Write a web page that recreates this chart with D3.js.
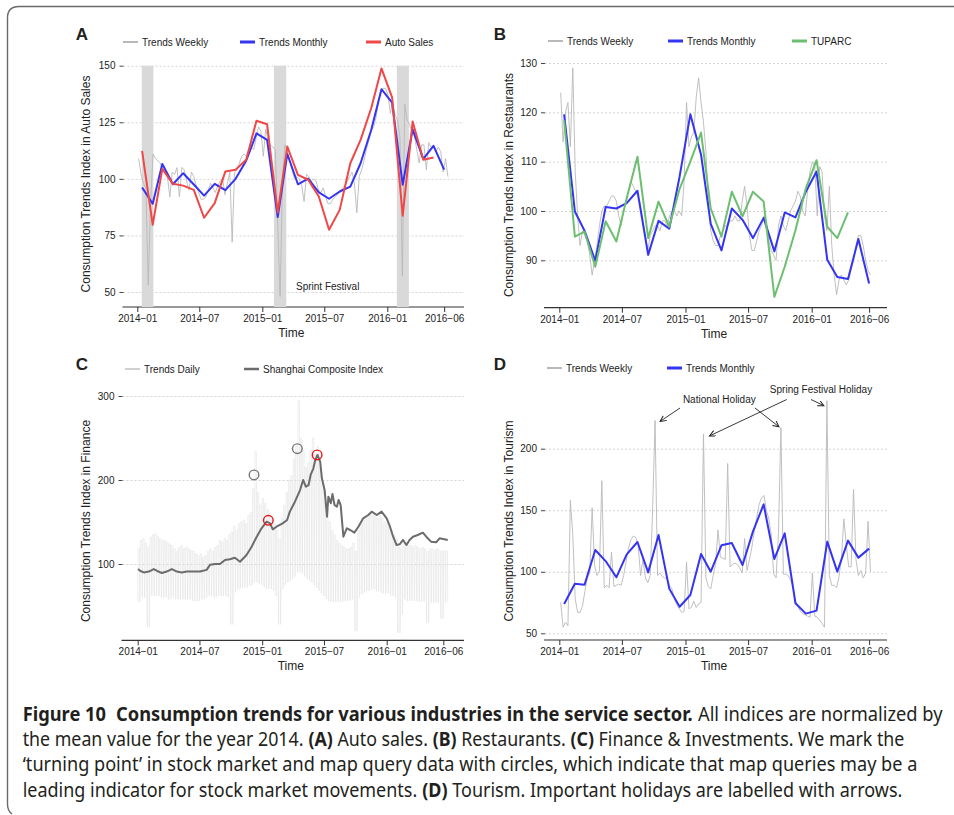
<!DOCTYPE html>
<html>
<head>
<meta charset="utf-8">
<script src="https://cdn.jsdelivr.net/npm/d3@7"></script>
<style>
body { margin: 0; background: #fff; }
svg text { font-family: "Liberation Sans", Arial, sans-serif; fill: #222; }
.caption text { font-family: "Noto Sans", "Open Sans", sans-serif; fill: #231f20; }
</style>
</head>
<body>
<svg id="fig" width="954" height="815"></svg>
<script>
// ---- data ----
var monthLabels = ["2014-01","2014-02","2014-03","2014-04","2014-05","2014-06","2014-07","2014-08","2014-09","2014-10","2014-11","2014-12",
  "2015-01","2015-02","2015-03","2015-04","2015-05","2015-06","2015-07","2015-08","2015-09","2015-10","2015-11","2015-12",
  "2016-01","2016-02","2016-03","2016-04","2016-05","2016-06"];
var tickDates = ["2014-01-01","2014-07-01","2015-01-01","2015-07-01","2016-01-01","2016-06-15"];
var tickLabels = ["2014\u221201","2014\u221207","2015\u221201","2015\u221207","2016\u221201","2016\u221206"];

// A: auto sales
var aTrendsWeekly = [109,102,98,96,53,90,111,109,108,107,104,103,101,92,103,102,105,92,105,104,
  99,95,103,101,97,94,91,91,92,95,98,96,94,97,99,100,93,98,103,72,
  103,104,107,110,111,110,113,114,113,118,123,121,110,122,117,115,114,113,80,48,
  100,115,112,108,104,100,101,100,97,90,102,101,99,100,99,95,94,96,92,89,
  89,91,92,93,94,96,97,99,101,103,98,85,101,104,108,113,117,121,123,127,
  134,139,140,140,137,129,134,128,126,118,57,133,126,124,121,119,113,107,115,115,
  104,116,114,114,112,114,112,103,109,101];
var aTrendsMonthly = [96.2,89,106.6,97.6,102.5,97.5,92.6,97.8,95,100,108,120.1,
  117.2,83.1,111,97.6,100.1,94,91.2,94.4,96.6,106.9,121.6,139.6,
  133.7,97.4,121.9,108.8,114.6,104.1];
var aAutoSales = [112.4,79.7,104.4,97.8,97,95.1,82.8,89.3,103.2,104,108.4,125.7,
  124.1,85.1,114.3,101.8,99.6,92.2,77.5,86.3,106.9,117.2,131.2,148.8,
  136,83.7,125.3,108.4,109.4];
var springBands = [["2014-01-14","2014-02-17"],["2015-02-04","2015-03-12"],["2016-01-29","2016-03-04"]];

// B: restaurants
var bTrendsWeekly = [124,114,120,122,113,129,108,99,93,96,95,94,91,87,90,93,97,100,101,101,
  102,103,103,102,99,97,100,102,104,106,105,104,103,101,98,95,92,95,96,97,
  97,96,98,98,97,99,100,100,99,100,99,106,122,113,115,116,123,127,122,118,
  112,102,96,94,93,93,95,96,97,97,98,98,99,98,98,102,105,101,95,92,
  92,94,96,97,99,98,94,92,91,90,97,99,97,96,98,100,101,102,104,103,
  100,99,104,108,110,109,99,109,108,99,96,105,93,87,83,86,87,86,85,86,
  88,90,93,95,95,93,90,88,87];
var bTrendsMonthly = [119.6,99.9,96,89.9,100.8,100.5,101.6,104.1,91.1,98,96.4,107,
  119.6,111.4,97.4,92,100.5,98.2,94.5,98.6,91.8,99.7,98.7,103.9,
  108,90.1,86.6,86.2,94.3,85.3];
var bTuparc = [118.4,94.8,95.8,88.7,97.9,93.8,102.6,111,94.5,101.9,96.8,104.5,
  110,115.9,100.5,94.8,103.9,98.9,103.9,101.9,82.6,88.7,96.1,104.6,
  110.3,96.8,94.5,99.7];

// C: finance (daily trends kept as weekly weekday level / weekend level)
var dailyHigh = [118,128,130,125,120,132,135,136,133,130,128,128,126,124,122,118,115,120,122,118,
  120,118,116,115,112,110,112,108,110,115,118,115,120,122,128,126,130,128,135,138,
  145,140,148,150,152,148,158,162,190,234,185,170,178,172,165,160,152,148,140,130,
  155,170,185,200,205,225,240,295,250,235,215,220,235,250,230,240,215,195,175,165,
  150,140,135,128,125,122,120,118,118,120,125,115,140,148,152,155,158,160,158,160,
  155,158,155,150,148,145,140,135,130,120,118,125,125,122,122,120,122,120,118,120,
  118,115,118,118,116,118,116,115,116,115];
var dailyLow = [55,62,60,60,25,62,64,62,63,62,60,62,60,58,60,60,58,58,60,58,
  58,58,58,56,56,56,58,58,60,62,62,62,60,62,64,62,64,62,60,28,
  66,70,70,72,72,72,74,75,78,80,78,76,75,72,70,72,70,68,62,28,
  70,75,78,80,82,85,90,92,90,88,85,82,80,78,75,72,68,65,62,58,
  56,55,55,55,55,55,56,56,56,58,58,20,60,64,66,68,68,70,70,70,
  68,68,66,65,66,65,62,62,60,18,40,58,58,56,56,58,56,56,55,56,
  55,30,55,54,54,55,54,35,54,55];
var sciDates = ["2014-01-02","2014-01-09","2014-01-19","2014-02-03","2014-02-17","2014-02-27","2014-03-13","2014-03-27","2014-04-11","2014-04-26",
  "2014-05-10","2014-05-25","2014-06-13","2014-07-03","2014-07-22","2014-08-01","2014-08-16","2014-08-30","2014-09-14","2014-09-28",
  "2014-10-13","2014-10-28","2014-11-16","2014-12-01","2014-12-16","2014-12-30","2015-01-14","2015-01-24","2015-02-01","2015-02-12",
  "2015-03-02","2015-03-15","2015-03-23","2015-04-07","2015-04-22","2015-05-01","2015-05-09","2015-05-17","2015-05-23","2015-05-31",
  "2015-06-05","2015-06-12","2015-06-20","2015-06-25","2015-07-03","2015-07-10","2015-07-14","2015-07-21","2015-07-26","2015-08-01",
  "2015-08-08","2015-08-13","2015-08-19","2015-08-27","2015-09-06","2015-09-16","2015-09-28","2015-10-10","2015-10-24","2015-11-08",
  "2015-11-18","2015-12-03","2015-12-17","2016-01-01","2016-01-09","2016-01-20","2016-01-30","2016-02-08","2016-02-18","2016-02-28",
  "2016-03-08","2016-03-18","2016-04-01","2016-04-16","2016-04-26","2016-05-10","2016-05-25","2016-06-04","2016-06-18","2016-06-28"];
var sciValues = [94,91.7,90,91,94,91.7,89.3,91,94,91,
  90,91,91,91,93,99,100,100,104.8,105.6,
  107.5,102.7,110.7,120.6,132.5,142.5,150.4,148.4,141.3,144.4,
  148.4,152.4,162.3,174.2,188,200,192,194,206,213.9,
  223,229.8,221.8,202,188,156.3,180.1,172.3,183.3,170.2,
  168.2,176.2,170.2,132.5,142.5,140.5,137.3,144.4,154.4,158.3,
  162.3,158.3,162.3,154.4,146.4,132.5,122.6,123.4,128.6,122.6,
  128.6,132.5,134.5,137.3,132.5,126.6,125.8,130.6,129.4,128.6];
var turnDates = ["2014-12-08","2015-04-14","2015-01-19","2015-06-11"];
var turnValues = [206,237.3,152,229.8];
var turnKinds = ["query","query","market","market"];

// D: tourism
var dTrendsWeekly = [75,55,59,56,158,130,78,67,67,72,84,95,99,152,105,97,100,174,87,89,
  87,116,88,89,90,89,97,108,119,126,129,128,122,97,110,95,91,97,151,223,
  97,99,96,95,94,89,86,78,73,70,67,68,108,70,71,76,71,74,75,212,
  95,88,86,97,106,134,112,111,110,188,104,106,107,106,103,99,127,101,110,120,
  133,144,155,160,162,150,143,130,98,95,132,217,98,98,97,93,88,76,72,68,
  66,65,64,63,99,64,63,61,58,55,239,97,89,89,87,96,111,143,122,104,
  104,167,110,97,101,95,99,141,100];
var dTrendsMonthly = [73.8,90.3,89.5,117.7,108.7,95.5,114.2,124.2,99.5,129.9,86.3,71.6,
  81.1,114.4,100.1,121.5,123.4,105.5,132.6,154.8,110.4,131.2,74.4,66,
  68.4,124.5,100.1,125.3,111.5,118.8];

// ---- drawing ----
var parseDay = d3.timeParse("%Y-%m-%d");
var parseMonth = d3.timeParse("%Y-%m");
var xRef = [parseDay("2014-01-01"), parseDay("2016-01-01")];
var weekStart = parseDay("2014-01-05");
var svg = d3.select("#fig");

var colors = { weekly: "#b9b9b9", monthly: "#3434f2", auto: "#f04747", tuparc: "#6dbf70", daily: "#e2e2e2", sci: "#6c6c6c" };

function monthly(values) {
  return values.map(function(v, i) { return [d3.timeDay.offset(parseMonth(monthLabels[i]), 14), v]; });
}
function weekly(values) {
  return values.map(function(v, i) { return [d3.timeDay.offset(weekStart, 7 * i), v]; });
}

function buildPanel(p) {
  var g = svg.append("g");
  var x = d3.scaleTime().domain(xRef).range(p.xRange);
  var y = d3.scaleLinear().domain(p.yDomain).range(p.yRange);

  g.append("g")
    .attr("transform", "translate(" + p.left + ",0)")
    .call(d3.axisLeft(y).tickValues(p.yTicks).tickSize(-(p.right - p.left)).tickFormat(""))
    .call(function(s) {
      s.select(".domain").remove();
      s.selectAll("line").attr("stroke", "#c2c2c2").attr("stroke-width", 0.7).attr("stroke-dasharray", "2,2");
    });

  g.append("g")
    .attr("transform", "translate(" + p.left + ",0)")
    .call(d3.axisLeft(y).tickValues(p.yTicks).tickSize(4).tickPadding(4))
    .call(function(s) {
      s.select(".domain").remove();
      s.selectAll("line").attr("stroke", "#444");
      s.selectAll("text").attr("font-size", 10);
    });

  g.append("line")
    .attr("x1", p.left - 1).attr("x2", p.right)
    .attr("y1", p.axisY).attr("y2", p.axisY)
    .attr("stroke", "#333").attr("stroke-width", 1.2);

  g.append("g")
    .attr("transform", "translate(0," + p.axisY + ")")
    .call(d3.axisBottom(x).tickValues(tickDates.map(parseDay))
      .tickFormat(function(d, i) { return tickLabels[i]; })
      .tickSize(5).tickPadding(3))
    .call(function(s) {
      s.select(".domain").remove();
      s.selectAll("line").attr("stroke", "#333");
      s.selectAll("text").attr("font-size", 10);
    });

  g.append("text")
    .attr("x", (p.left + p.right) / 2 + p.timeDx).attr("y", p.axisY + 30)
    .attr("text-anchor", "middle").attr("font-size", 12)
    .text("Time");

  g.append("text")
    .attr("transform", "translate(" + p.titleX + "," + p.titleY + ") rotate(-90)")
    .attr("text-anchor", "middle").attr("dy", "0.35em").attr("font-size", 12)
    .text(p.title);

  g.append("text")
    .attr("x", p.letter[0]).attr("y", p.letter[1])
    .attr("text-anchor", "middle").attr("font-size", 17).attr("font-weight", "bold")
    .style("fill", "#231f20")
    .text(p.name);

  var legend = g.append("g");
  p.legend.forEach(function(item) {
    legend.append("line")
      .attr("x1", item.x).attr("x2", item.x + 15)
      .attr("y1", p.legendY).attr("y2", p.legendY)
      .attr("stroke", item.color).attr("stroke-width", item.width);
    legend.append("text")
      .attr("x", item.x + 19).attr("y", p.legendY + 3.5)
      .attr("font-size", 10)
      .text(item.label);
  });

  return { g: g, x: x, y: y };
}

function drawLine(panel, pts, color, width) {
  var line = d3.line()
    .x(function(d) { return panel.x(d[0]); })
    .y(function(d) { return panel.y(d[1]); });
  return panel.g.append("path")
    .datum(pts)
    .attr("d", line)
    .attr("fill", "none")
    .attr("stroke", color)
    .attr("stroke-width", width)
    .attr("stroke-linejoin", "round");
}

// Panel A
var pA = buildPanel({
  name: "A", letter: [82, 40], left: 123.5, right: 464, axisY: 307,
  xRange: [137.3, 387.3], yDomain: [50, 150], yRange: [292, 65.7], yTicks: [50, 75, 100, 125, 150],
  title: "Consumption Trends Index in Auto Sales", titleX: 86, titleY: 184, timeDx: -2.5,
  legendY: 42,
  legend: [
    { x: 123, label: "Trends Weekly", color: colors.weekly, width: 2 },
    { x: 240, label: "Trends Monthly", color: colors.monthly, width: 3 },
    { x: 366, label: "Auto Sales", color: colors.auto, width: 3 }
  ]
});
pA.g.selectAll("rect.band")
  .data(springBands)
  .enter().append("rect")
  .attr("class", "band")
  .attr("x", function(d) { return pA.x(parseDay(d[0])); })
  .attr("width", function(d) { return pA.x(parseDay(d[1])) - pA.x(parseDay(d[0])); })
  .attr("y", pA.y(150))
  .attr("height", 307 - pA.y(150))
  .attr("fill", "#d9d9d9");
drawLine(pA, weekly(aTrendsWeekly), colors.weekly, 0.9);
drawLine(pA, monthly(aTrendsMonthly), colors.monthly, 2);
drawLine(pA, monthly(aAutoSales), colors.auto, 2);
pA.g.append("text")
  .attr("x", 327.7).attr("y", 289.5)
  .attr("text-anchor", "middle").attr("font-size", 10)
  .text("Sprint Festival");

// Panel B
var pB = buildPanel({
  name: "B", letter: [500, 40], left: 545, right: 887, axisY: 307.7,
  xRange: [559.3, 811.7], yDomain: [90, 130], yRange: [260.3, 63], yTicks: [90, 100, 110, 120, 130],
  title: "Consumption Trends Index in Restaurants", titleX: 508.3, titleY: 185, timeDx: -2,
  legendY: 41,
  legend: [
    { x: 548, label: "Trends Weekly", color: colors.weekly, width: 2 },
    { x: 668, label: "Trends Monthly", color: colors.monthly, width: 3 },
    { x: 792, label: "TUPARC", color: colors.tuparc, width: 3 }
  ]
});
drawLine(pB, weekly(bTrendsWeekly), colors.weekly, 0.9);
drawLine(pB, monthly(bTrendsMonthly), colors.monthly, 2);
drawLine(pB, monthly(bTuparc), colors.tuparc, 2);

// Panel C
var pC = buildPanel({
  name: "C", letter: [82, 370], left: 122.5, right: 464, axisY: 640.3,
  xRange: [137.7, 386.7], yDomain: [100, 300], yRange: [564, 396], yTicks: [100, 200, 300],
  title: "Consumption Trends Index in Finance", titleX: 86, titleY: 521, timeDx: -2.5,
  legendY: 369,
  legend: [
    { x: 125, label: "Trends Daily", color: "#d0d0d0", width: 2 },
    { x: 244, label: "Shanghai Composite Index", color: colors.sci, width: 2.5 }
  ]
});
var dailyStart = parseDay("2014-01-01");
var dailyPts = [];
dailyHigh.forEach(function(h, i) {
  var s = d3.timeDay.offset(dailyStart, 7 * i);
  dailyPts.push([s, dailyLow[i]]);
  dailyPts.push([d3.timeDay.offset(s, 1), h]);
  dailyPts.push([d3.timeDay.offset(s, 5), h]);
  dailyPts.push([d3.timeDay.offset(s, 6), dailyLow[i]]);
});
drawLine(pC, dailyPts, colors.daily, 0.6);
drawLine(pC, sciDates.map(function(d, i) { return [parseDay(d), sciValues[i]]; }), colors.sci, 2);
pC.g.selectAll("circle.turn")
  .data(turnDates.map(function(d, i) { return { date: parseDay(d), value: turnValues[i], kind: turnKinds[i] }; }))
  .enter().append("circle")
  .attr("class", "turn")
  .attr("cx", function(d) { return pC.x(d.date); })
  .attr("cy", function(d) { return pC.y(d.value); })
  .attr("r", 4.8)
  .attr("fill", "none")
  .attr("stroke", function(d) { return d.kind === "market" ? "#e8161b" : "#777"; })
  .attr("stroke-width", 1.4);

// Panel D
var pD = buildPanel({
  name: "D", letter: [500, 370], left: 545, right: 887, axisY: 640,
  xRange: [559.3, 811.7], yDomain: [50, 200], yRange: [633.3, 448.7], yTicks: [50, 100, 150, 200],
  title: "Consumption Trends Index in Tourism", titleX: 508.3, titleY: 521, timeDx: -2,
  legendY: 368,
  legend: [
    { x: 547, label: "Trends Weekly", color: colors.weekly, width: 2 },
    { x: 667, label: "Trends Monthly", color: colors.monthly, width: 3 }
  ]
});
var dWeeklyPts = weekly(dTrendsWeekly);
drawLine(pD, dWeeklyPts, colors.weekly, 0.9);
drawLine(pD, monthly(dTrendsMonthly), colors.monthly, 2);

svg.append("defs").append("marker")
  .attr("id", "arrow")
  .attr("markerUnits", "userSpaceOnUse")
  .attr("markerWidth", 8).attr("markerHeight", 8)
  .attr("refX", 6).attr("refY", 3)
  .attr("orient", "auto")
  .append("path")
  .attr("d", "M0,0L6,3L0,6")
  .attr("fill", "none").attr("stroke", "#222").attr("stroke-width", 1);

var holidayNotes = [
  { label: "National Holiday", tx: 719.3, ty: 403, arrows: [
    { from: [680, 408], spike: 39, dx: 5, dy: 1 },
    { from: [755, 408], spike: 91, dx: -2, dy: -1 } ] },
  { label: "Spring Festival Holiday", tx: 821, ty: 392.5, arrows: [
    { from: [786.7, 399.5], spike: 59, dx: 6, dy: 2 },
    { from: [811, 399.5], spike: 110, dx: -3, dy: 5 } ] }
];
holidayNotes.forEach(function(n) {
  pD.g.append("text")
    .attr("x", n.tx).attr("y", n.ty)
    .attr("text-anchor", "middle").attr("font-size", 10)
    .text(n.label);
  n.arrows.forEach(function(a) {
    var pt = dWeeklyPts[a.spike];
    pD.g.append("line")
      .attr("x1", a.from[0]).attr("y1", a.from[1])
      .attr("x2", pD.x(pt[0]) + a.dx).attr("y2", pD.y(pt[1]) + a.dy)
      .attr("stroke", "#222").attr("stroke-width", 0.9)
      .attr("marker-end", "url(#arrow)");
  });
});

// frame and caption
svg.append("path")
  .attr("d", "M954,6.5H19Q7.5,6.5 7.5,18V804Q7.5,811 12,814")
  .attr("fill", "none").attr("stroke", "#6a6a6a").attr("stroke-width", 1.4);

// each part: [text, bold, gap before it in px]
var captionLines = [
  { y: 721, len: 920, parts: [["Figure 10", true, 0], ["Consumption trends for various industries in the service sector.", true, 11], ["All indices are normalized by", false, 5.2]] },
  { y: 746, len: 882, parts: [["the mean value for the year 2014.", false, 0], ["(A)", true, 5.2], ["Auto sales.", false, 5.2], ["(B)", true, 5.2], ["Restaurants.", false, 5.2], ["(C)", true, 5.2], ["Finance & Investments. We mark the", false, 5.2]] },
  { y: 771, len: 895, parts: [["\u2018turning point\u2019 in stock market and map query data with circles, which indicate that map queries may be a", false, 0]] },
  { y: 797, len: 880, parts: [["leading indicator for stock market movements.", false, 0], ["(D)", true, 5.2], ["Tourism. Important holidays are labelled with arrows.", false, 5.2]] }
];
var caption = svg.append("g").attr("class", "caption");
captionLines.forEach(function(l) {
  // the caption face is condensed, so squeeze each line horizontally to its width
  var row = caption.append("g");
  var texts = l.parts.map(function(p) {
    return row.append("text")
      .attr("y", 0)
      .attr("font-size", 20)
      .attr("font-weight", p[1] ? "bold" : "normal")
      .text(p[0]);
  });
  var widths = texts.map(function(t) { return t.node().getComputedTextLength(); });
  var gaps = l.parts.map(function(p) { return p[2]; });
  var total = d3.sum(widths) + d3.sum(gaps);
  var xPos = 0;
  texts.forEach(function(t, i) {
    xPos += gaps[i];
    t.attr("x", xPos);
    xPos += widths[i];
  });
  row.attr("transform", "translate(22.7," + l.y + ") scale(" + (l.len / total) + ",1)");
});
</script>
</body>
</html>
